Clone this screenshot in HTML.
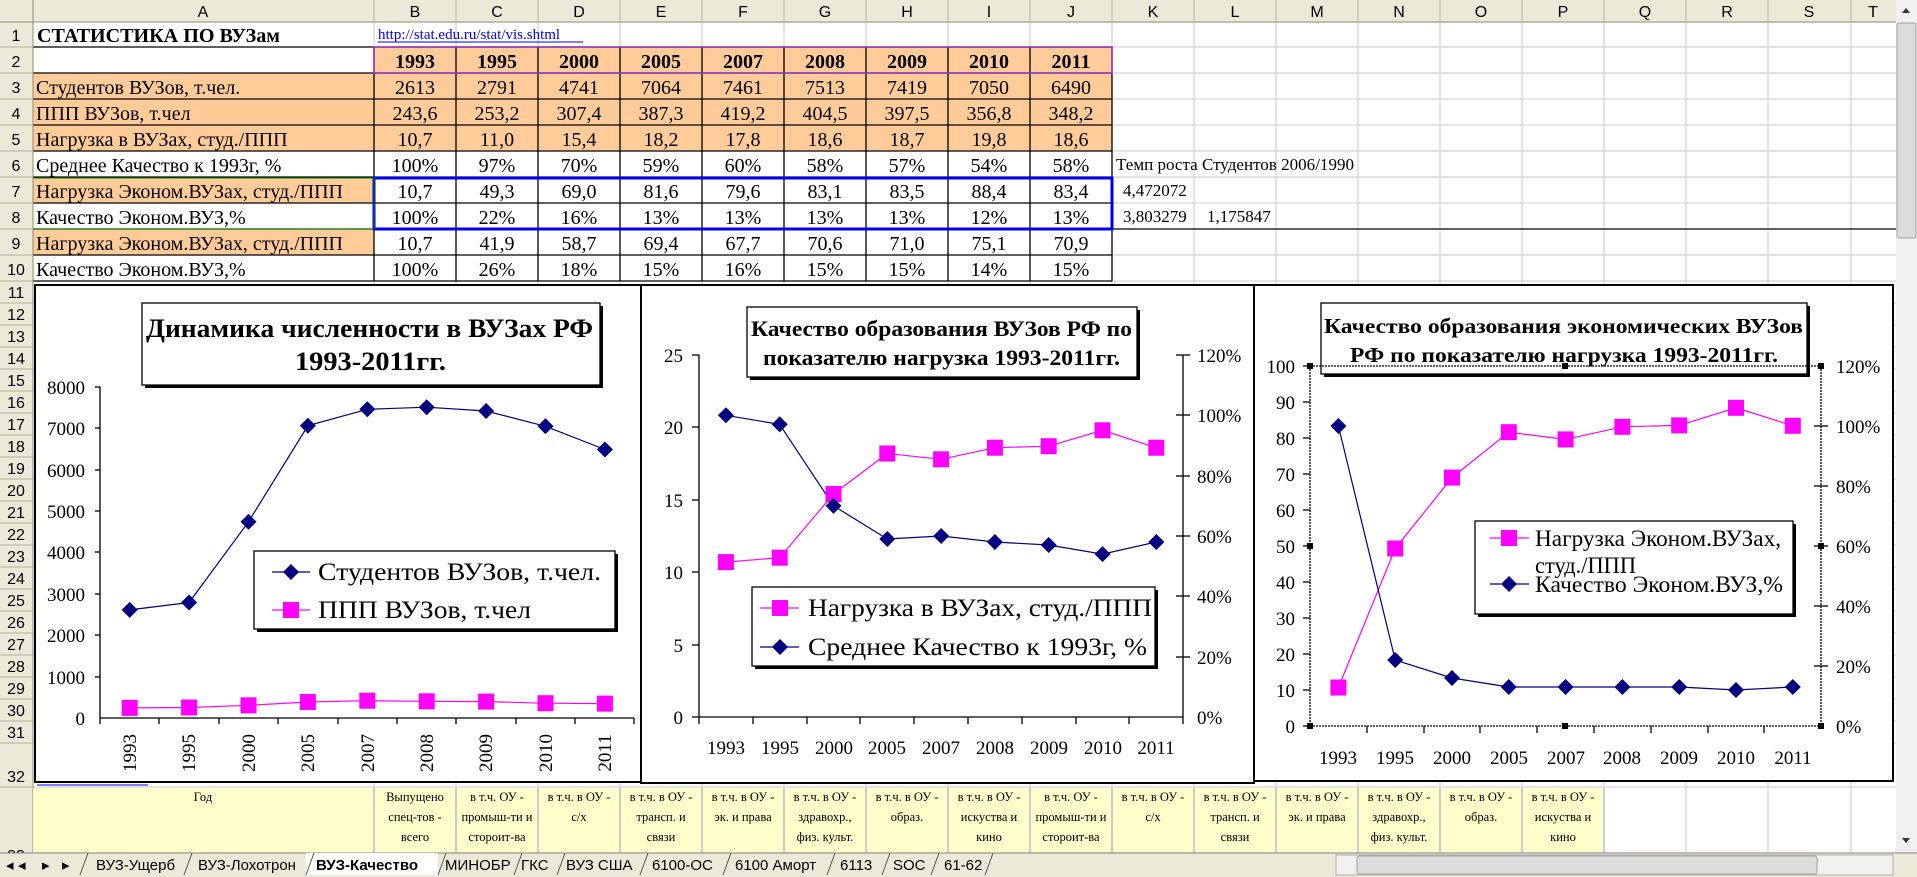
<!DOCTYPE html>
<html><head><meta charset="utf-8"><style>
html,body{margin:0;padding:0;background:#fff;}
svg{display:block;}
text{font-family:"Liberation Serif","DejaVu Serif",serif;}
.s{font-family:"Liberation Sans","DejaVu Sans",sans-serif;}
</style></head><body>
<svg width="1917" height="877" viewBox="0 0 1917 877" xmlns="http://www.w3.org/2000/svg">
<rect width="1917" height="877" fill="#fff"/>
<g fill="#FFCC99">
<rect x="374" y="47" width="738" height="26"/>
<rect x="33" y="73" width="1079" height="78"/>
<rect x="33" y="177" width="341" height="26"/>
<rect x="33" y="229" width="341" height="26"/>
</g>
<g stroke="#C8C8C8" stroke-width="1">
<line x1="456" y1="22" x2="456" y2="853"/><line x1="538" y1="22" x2="538" y2="853"/><line x1="620" y1="22" x2="620" y2="853"/><line x1="702" y1="22" x2="702" y2="853"/><line x1="784" y1="22" x2="784" y2="853"/><line x1="866" y1="22" x2="866" y2="853"/><line x1="948" y1="22" x2="948" y2="853"/><line x1="1030" y1="22" x2="1030" y2="853"/><line x1="1112" y1="22" x2="1112" y2="853"/><line x1="1194" y1="22" x2="1194" y2="853"/><line x1="1276" y1="22" x2="1276" y2="853"/><line x1="1358" y1="22" x2="1358" y2="853"/><line x1="1440" y1="22" x2="1440" y2="853"/><line x1="1522" y1="22" x2="1522" y2="853"/><line x1="1604" y1="22" x2="1604" y2="853"/><line x1="1686" y1="22" x2="1686" y2="853"/><line x1="1768" y1="22" x2="1768" y2="853"/><line x1="1851" y1="22" x2="1851" y2="853"/><line x1="374" y1="22" x2="374" y2="853"/>
<line x1="33" y1="47" x2="1896" y2="47"/><line x1="33" y1="73" x2="1896" y2="73"/><line x1="33" y1="99" x2="1896" y2="99"/><line x1="33" y1="125" x2="1896" y2="125"/><line x1="33" y1="151" x2="1896" y2="151"/><line x1="33" y1="177" x2="1896" y2="177"/><line x1="33" y1="203" x2="1896" y2="203"/><line x1="33" y1="229" x2="1896" y2="229"/><line x1="33" y1="255" x2="1896" y2="255"/><line x1="33" y1="281" x2="1896" y2="281"/>
<line x1="33" y1="303" x2="1896" y2="303"/><line x1="33" y1="325" x2="1896" y2="325"/><line x1="33" y1="347" x2="1896" y2="347"/><line x1="33" y1="369" x2="1896" y2="369"/><line x1="33" y1="391" x2="1896" y2="391"/><line x1="33" y1="413" x2="1896" y2="413"/><line x1="33" y1="435" x2="1896" y2="435"/><line x1="33" y1="457" x2="1896" y2="457"/><line x1="33" y1="479" x2="1896" y2="479"/><line x1="33" y1="501" x2="1896" y2="501"/><line x1="33" y1="523" x2="1896" y2="523"/><line x1="33" y1="545" x2="1896" y2="545"/><line x1="33" y1="567" x2="1896" y2="567"/><line x1="33" y1="589" x2="1896" y2="589"/><line x1="33" y1="611" x2="1896" y2="611"/><line x1="33" y1="633" x2="1896" y2="633"/><line x1="33" y1="655" x2="1896" y2="655"/><line x1="33" y1="677" x2="1896" y2="677"/><line x1="33" y1="699" x2="1896" y2="699"/><line x1="33" y1="721" x2="1896" y2="721"/><line x1="33" y1="743" x2="1896" y2="743"/><line x1="33" y1="787" x2="1896" y2="787"/>
</g>
<g stroke="#000" stroke-width="1.3" fill="none">
<line x1="33" y1="47" x2="1112" y2="47"/><line x1="33" y1="73" x2="1112" y2="73"/><line x1="33" y1="99" x2="1112" y2="99"/><line x1="33" y1="125" x2="1112" y2="125"/><line x1="33" y1="151" x2="1112" y2="151"/><line x1="33" y1="177" x2="1112" y2="177"/><line x1="33" y1="203" x2="1112" y2="203"/><line x1="33" y1="229" x2="1896" y2="229"/><line x1="33" y1="255" x2="1112" y2="255"/><line x1="33" y1="281" x2="1112" y2="281"/>
<line x1="374" y1="47" x2="374" y2="281"/><line x1="456" y1="47" x2="456" y2="281"/><line x1="538" y1="47" x2="538" y2="281"/><line x1="620" y1="47" x2="620" y2="281"/><line x1="702" y1="47" x2="702" y2="281"/><line x1="784" y1="47" x2="784" y2="281"/><line x1="866" y1="47" x2="866" y2="281"/><line x1="948" y1="47" x2="948" y2="281"/><line x1="1030" y1="47" x2="1030" y2="281"/><line x1="1112" y1="47" x2="1112" y2="281"/>
</g>
<rect x="374" y="47" width="738" height="26" fill="none" stroke="#9933CC" stroke-width="1.5"/>
<rect x="374" y="178" width="738" height="51" fill="none" stroke="#0000EE" stroke-width="3"/>
<rect x="33" y="178" width="341" height="51" fill="none" stroke="#008000" stroke-width="1"/>
<rect x="0" y="0" width="1896" height="22" fill="#ECE9D8"/>
<rect x="0" y="0" width="33" height="877" fill="#ECE9D8"/>
<line x1="0" y1="22" x2="1896" y2="22" stroke="#8B8B70"/>
<line x1="33" y1="0" x2="33" y2="853" stroke="#8B8B70"/>
<g stroke="#B5B39A">
<line x1="374" y1="0" x2="374" y2="22"/><line x1="456" y1="0" x2="456" y2="22"/><line x1="538" y1="0" x2="538" y2="22"/><line x1="620" y1="0" x2="620" y2="22"/><line x1="702" y1="0" x2="702" y2="22"/><line x1="784" y1="0" x2="784" y2="22"/><line x1="866" y1="0" x2="866" y2="22"/><line x1="948" y1="0" x2="948" y2="22"/><line x1="1030" y1="0" x2="1030" y2="22"/><line x1="1112" y1="0" x2="1112" y2="22"/><line x1="1194" y1="0" x2="1194" y2="22"/><line x1="1276" y1="0" x2="1276" y2="22"/><line x1="1358" y1="0" x2="1358" y2="22"/><line x1="1440" y1="0" x2="1440" y2="22"/><line x1="1522" y1="0" x2="1522" y2="22"/><line x1="1604" y1="0" x2="1604" y2="22"/><line x1="1686" y1="0" x2="1686" y2="22"/><line x1="1768" y1="0" x2="1768" y2="22"/><line x1="1851" y1="0" x2="1851" y2="22"/>
<line x1="0" y1="47" x2="33" y2="47"/><line x1="0" y1="73" x2="33" y2="73"/><line x1="0" y1="99" x2="33" y2="99"/><line x1="0" y1="125" x2="33" y2="125"/><line x1="0" y1="151" x2="33" y2="151"/><line x1="0" y1="177" x2="33" y2="177"/><line x1="0" y1="203" x2="33" y2="203"/><line x1="0" y1="229" x2="33" y2="229"/><line x1="0" y1="255" x2="33" y2="255"/><line x1="0" y1="281" x2="33" y2="281"/><line x1="0" y1="303" x2="33" y2="303"/><line x1="0" y1="325" x2="33" y2="325"/><line x1="0" y1="347" x2="33" y2="347"/><line x1="0" y1="369" x2="33" y2="369"/><line x1="0" y1="391" x2="33" y2="391"/><line x1="0" y1="413" x2="33" y2="413"/><line x1="0" y1="435" x2="33" y2="435"/><line x1="0" y1="457" x2="33" y2="457"/><line x1="0" y1="479" x2="33" y2="479"/><line x1="0" y1="501" x2="33" y2="501"/><line x1="0" y1="523" x2="33" y2="523"/><line x1="0" y1="545" x2="33" y2="545"/><line x1="0" y1="567" x2="33" y2="567"/><line x1="0" y1="589" x2="33" y2="589"/><line x1="0" y1="611" x2="33" y2="611"/><line x1="0" y1="633" x2="33" y2="633"/><line x1="0" y1="655" x2="33" y2="655"/><line x1="0" y1="677" x2="33" y2="677"/><line x1="0" y1="699" x2="33" y2="699"/><line x1="0" y1="721" x2="33" y2="721"/><line x1="0" y1="743" x2="33" y2="743"/><line x1="0" y1="787" x2="33" y2="787"/>
</g>
<g class="s" font-size="16" text-anchor="middle" fill="#000">
<text class="s" x="203" y="17">A</text><text class="s" x="415" y="17">B</text><text class="s" x="497" y="17">C</text><text class="s" x="579" y="17">D</text><text class="s" x="661" y="17">E</text><text class="s" x="743" y="17">F</text><text class="s" x="825" y="17">G</text><text class="s" x="907" y="17">H</text><text class="s" x="989" y="17">I</text><text class="s" x="1071" y="17">J</text><text class="s" x="1153" y="17">K</text><text class="s" x="1235" y="17">L</text><text class="s" x="1317" y="17">M</text><text class="s" x="1399" y="17">N</text><text class="s" x="1481" y="17">O</text><text class="s" x="1563" y="17">P</text><text class="s" x="1645" y="17">Q</text><text class="s" x="1727" y="17">R</text><text class="s" x="1809" y="17">S</text><text class="s" x="1873" y="17">T</text>
<text class="s" x="16" y="41">1</text><text class="s" x="16" y="67">2</text><text class="s" x="16" y="93">3</text><text class="s" x="16" y="119">4</text><text class="s" x="16" y="145">5</text><text class="s" x="16" y="171">6</text><text class="s" x="16" y="197">7</text><text class="s" x="16" y="223">8</text><text class="s" x="16" y="249">9</text><text class="s" x="16" y="275">10</text>
<text class="s" x="16" y="298">11</text><text class="s" x="16" y="320">12</text><text class="s" x="16" y="342">13</text><text class="s" x="16" y="364">14</text><text class="s" x="16" y="386">15</text><text class="s" x="16" y="408">16</text><text class="s" x="16" y="430">17</text><text class="s" x="16" y="452">18</text><text class="s" x="16" y="474">19</text><text class="s" x="16" y="496">20</text><text class="s" x="16" y="518">21</text><text class="s" x="16" y="540">22</text><text class="s" x="16" y="562">23</text><text class="s" x="16" y="584">24</text><text class="s" x="16" y="606">25</text><text class="s" x="16" y="628">26</text><text class="s" x="16" y="650">27</text><text class="s" x="16" y="672">28</text><text class="s" x="16" y="694">29</text><text class="s" x="16" y="716">30</text><text class="s" x="16" y="738">31</text><text class="s" x="16" y="782">32</text><text class="s" x="16" y="861">33</text>
</g>
<text x="37" y="42" font-size="20" font-weight="bold" textLength="243" lengthAdjust="spacingAndGlyphs">СТАТИСТИКА ПО ВУЗам</text>
<text x="378" y="39" font-size="15" fill="#0000EE">http://stat.edu.ru/stat/vis.shtml</text>
<line x1="378" y1="42" x2="583" y2="42" stroke="#0000EE"/>
<g font-size="20" fill="#000">
<text x="36" y="94">Студентов ВУЗов, т.чел.</text>
<text x="36" y="120">ППП ВУЗов, т.чел</text>
<text x="36" y="146">Нагрузка в ВУЗах, студ./ППП</text>
<text x="36" y="172">Среднее Качество к 1993г, %</text>
<text x="36" y="198">Нагрузка Эконом.ВУЗах, студ./ППП</text>
<text x="36" y="224">Качество Эконом.ВУЗ,%</text>
<text x="36" y="250">Нагрузка Эконом.ВУЗах, студ./ППП</text>
<text x="36" y="276">Качество Эконом.ВУЗ,%</text>
</g>
<g font-size="20" text-anchor="middle" fill="#000">
<g font-weight="bold"><text x="415" y="68">1993</text><text x="497" y="68">1995</text><text x="579" y="68">2000</text><text x="661" y="68">2005</text><text x="743" y="68">2007</text><text x="825" y="68">2008</text><text x="907" y="68">2009</text><text x="989" y="68">2010</text><text x="1071" y="68">2011</text></g>
<text x="415" y="94">2613</text><text x="497" y="94">2791</text><text x="579" y="94">4741</text><text x="661" y="94">7064</text><text x="743" y="94">7461</text><text x="825" y="94">7513</text><text x="907" y="94">7419</text><text x="989" y="94">7050</text><text x="1071" y="94">6490</text>
<text x="415" y="120">243,6</text><text x="497" y="120">253,2</text><text x="579" y="120">307,4</text><text x="661" y="120">387,3</text><text x="743" y="120">419,2</text><text x="825" y="120">404,5</text><text x="907" y="120">397,5</text><text x="989" y="120">356,8</text><text x="1071" y="120">348,2</text>
<text x="415" y="146">10,7</text><text x="497" y="146">11,0</text><text x="579" y="146">15,4</text><text x="661" y="146">18,2</text><text x="743" y="146">17,8</text><text x="825" y="146">18,6</text><text x="907" y="146">18,7</text><text x="989" y="146">19,8</text><text x="1071" y="146">18,6</text>
<text x="415" y="172">100%</text><text x="497" y="172">97%</text><text x="579" y="172">70%</text><text x="661" y="172">59%</text><text x="743" y="172">60%</text><text x="825" y="172">58%</text><text x="907" y="172">57%</text><text x="989" y="172">54%</text><text x="1071" y="172">58%</text>
<text x="415" y="198">10,7</text><text x="497" y="198">49,3</text><text x="579" y="198">69,0</text><text x="661" y="198">81,6</text><text x="743" y="198">79,6</text><text x="825" y="198">83,1</text><text x="907" y="198">83,5</text><text x="989" y="198">88,4</text><text x="1071" y="198">83,4</text>
<text x="415" y="224">100%</text><text x="497" y="224">22%</text><text x="579" y="224">16%</text><text x="661" y="224">13%</text><text x="743" y="224">13%</text><text x="825" y="224">13%</text><text x="907" y="224">13%</text><text x="989" y="224">12%</text><text x="1071" y="224">13%</text>
<text x="415" y="250">10,7</text><text x="497" y="250">41,9</text><text x="579" y="250">58,7</text><text x="661" y="250">69,4</text><text x="743" y="250">67,7</text><text x="825" y="250">70,6</text><text x="907" y="250">71,0</text><text x="989" y="250">75,1</text><text x="1071" y="250">70,9</text>
<text x="415" y="276">100%</text><text x="497" y="276">26%</text><text x="579" y="276">18%</text><text x="661" y="276">15%</text><text x="743" y="276">16%</text><text x="825" y="276">15%</text><text x="907" y="276">15%</text><text x="989" y="276">14%</text><text x="1071" y="276">15%</text>
</g>
<g font-size="17" fill="#000">
<text x="1116" y="170" textLength="238" lengthAdjust="spacingAndGlyphs">Темп роста Студентов 2006/1990</text>
<text x="1123" y="196">4,472072</text>
<text x="1123" y="222">3,803279</text><text x="1207" y="222">1,175847</text>
</g>
<rect x="33" y="788" width="1571" height="65" fill="#FFFFCC"/>
<g stroke="#9999CC"><line x1="374" y1="788" x2="374" y2="853"/><line x1="456" y1="788" x2="456" y2="853"/><line x1="538" y1="788" x2="538" y2="853"/><line x1="620" y1="788" x2="620" y2="853"/><line x1="702" y1="788" x2="702" y2="853"/><line x1="784" y1="788" x2="784" y2="853"/><line x1="866" y1="788" x2="866" y2="853"/><line x1="948" y1="788" x2="948" y2="853"/><line x1="1030" y1="788" x2="1030" y2="853"/><line x1="1112" y1="788" x2="1112" y2="853"/><line x1="1194" y1="788" x2="1194" y2="853"/><line x1="1276" y1="788" x2="1276" y2="853"/><line x1="1358" y1="788" x2="1358" y2="853"/><line x1="1440" y1="788" x2="1440" y2="853"/><line x1="1522" y1="788" x2="1522" y2="853"/><line x1="1604" y1="788" x2="1604" y2="853"/></g>
<g font-size="12.5" text-anchor="middle" fill="#000">
<text x="203" y="801">Год</text>
<text x="415" y="801">Выпущено</text><text x="415" y="821">спец-тов -</text><text x="415" y="841">всего</text>
<text x="497" y="801">в т.ч. ОУ -</text><text x="497" y="821">промыш-ти и</text><text x="497" y="841">сторoит-ва</text>
<text x="579" y="801">в т.ч. в ОУ -</text><text x="579" y="821">с/х</text>
<text x="661" y="801">в т.ч. в ОУ -</text><text x="661" y="821">трансп. и</text><text x="661" y="841">связи</text>
<text x="743" y="801">в т.ч. в ОУ -</text><text x="743" y="821">эк. и права</text>
<text x="825" y="801">в т.ч. в ОУ -</text><text x="825" y="821">здравохр.,</text><text x="825" y="841">физ. культ.</text>
<text x="907" y="801">в т.ч. в ОУ -</text><text x="907" y="821">образ.</text>
<text x="989" y="801">в т.ч. в ОУ -</text><text x="989" y="821">искуства и</text><text x="989" y="841">кино</text>
<text x="1071" y="801">в т.ч. ОУ -</text><text x="1071" y="821">промыш-ти и</text><text x="1071" y="841">сторoит-ва</text>
<text x="1153" y="801">в т.ч. в ОУ -</text><text x="1153" y="821">с/х</text>
<text x="1235" y="801">в т.ч. в ОУ -</text><text x="1235" y="821">трансп. и</text><text x="1235" y="841">связи</text>
<text x="1317" y="801">в т.ч. в ОУ -</text><text x="1317" y="821">эк. и права</text>
<text x="1399" y="801">в т.ч. в ОУ -</text><text x="1399" y="821">здравохр.,</text><text x="1399" y="841">физ. культ.</text>
<text x="1481" y="801">в т.ч. в ОУ -</text><text x="1481" y="821">образ.</text>
<text x="1563" y="801">в т.ч. в ОУ -</text><text x="1563" y="821">искуства и</text><text x="1563" y="841">кино</text>
</g>

<!-- CHART 1 -->
<rect x="35" y="285" width="606" height="497" fill="#fff" stroke="#000" stroke-width="2"/>
<rect x="145" y="306" width="458" height="82" fill="#000"/>
<rect x="142" y="303" width="458" height="82" fill="#fff" stroke="#000" stroke-width="1.3"/>
<g font-size="26" font-weight="bold"><text x="146" y="337" textLength="447" lengthAdjust="spacingAndGlyphs">Динамика численности в ВУЗах РФ</text><text x="295" y="370" textLength="151" lengthAdjust="spacingAndGlyphs">1993-2011гг.</text></g>
<g stroke="#000" stroke-width="1.3">
<line x1="100" y1="387" x2="100" y2="718"/><line x1="100" y1="718" x2="634" y2="718"/>
<line x1="95" y1="387" x2="100" y2="387"/><line x1="95" y1="428" x2="100" y2="428"/><line x1="95" y1="470" x2="100" y2="470"/><line x1="95" y1="511" x2="100" y2="511"/><line x1="95" y1="552" x2="100" y2="552"/><line x1="95" y1="594" x2="100" y2="594"/><line x1="95" y1="635" x2="100" y2="635"/><line x1="95" y1="677" x2="100" y2="677"/>
<line x1="100" y1="718" x2="100" y2="724"/><line x1="159" y1="718" x2="159" y2="724"/><line x1="219" y1="718" x2="219" y2="724"/><line x1="278" y1="718" x2="278" y2="724"/><line x1="338" y1="718" x2="338" y2="724"/><line x1="397" y1="718" x2="397" y2="724"/><line x1="456" y1="718" x2="456" y2="724"/><line x1="516" y1="718" x2="516" y2="724"/><line x1="575" y1="718" x2="575" y2="724"/><line x1="634" y1="718" x2="634" y2="724"/>
</g>
<g font-size="19" text-anchor="end"><text x="85" y="394">8000</text><text x="85" y="435">7000</text><text x="85" y="477">6000</text><text x="85" y="518">5000</text><text x="85" y="559">4000</text><text x="85" y="601">3000</text><text x="85" y="642">2000</text><text x="85" y="684">1000</text><text x="85" y="725">0</text></g>
<g font-size="19" text-anchor="middle">
<text transform="translate(136,753) rotate(-90)">1993</text><text transform="translate(195,753) rotate(-90)">1995</text><text transform="translate(255,753) rotate(-90)">2000</text><text transform="translate(314,753) rotate(-90)">2005</text><text transform="translate(374,753) rotate(-90)">2007</text><text transform="translate(433,753) rotate(-90)">2008</text><text transform="translate(492,753) rotate(-90)">2009</text><text transform="translate(552,753) rotate(-90)">2010</text><text transform="translate(611,753) rotate(-90)">2011</text>
</g>
<polyline fill="none" stroke="#000080" stroke-width="1.2" points="129.7,609.9 189.1,602.5 248.5,521.8 307.9,425.7 367.3,409.3 426.7,407.2 486.1,411 545.5,426.3 604.9,449.5"/>
<polyline fill="none" stroke="#FF00FF" stroke-width="1.2" points="129.7,707.9 189.1,707.5 248.5,705.3 307.9,702 367.3,700.7 426.7,701.3 486.1,701.6 545.5,703.2 604.9,703.6"/>
<g fill="#000080">
<path d="M129.7 601.9l8 8-8 8-8-8z"/><path d="M189.1 594.5l8 8-8 8-8-8z"/><path d="M248.5 513.8l8 8-8 8-8-8z"/><path d="M307.9 417.7l8 8-8 8-8-8z"/><path d="M367.3 401.3l8 8-8 8-8-8z"/><path d="M426.7 399.2l8 8-8 8-8-8z"/><path d="M486.1 403l8 8-8 8-8-8z"/><path d="M545.5 418.3l8 8-8 8-8-8z"/><path d="M604.9 441.5l8 8-8 8-8-8z"/>
</g>
<g fill="#FF00FF">
<rect x="121.7" y="699.9" width="16" height="16"/><rect x="181.1" y="699.5" width="16" height="16"/><rect x="240.5" y="697.3" width="16" height="16"/><rect x="299.9" y="694" width="16" height="16"/><rect x="359.3" y="692.7" width="16" height="16"/><rect x="418.7" y="693.3" width="16" height="16"/><rect x="478.1" y="693.6" width="16" height="16"/><rect x="537.5" y="695.2" width="16" height="16"/><rect x="596.9" y="695.6" width="16" height="16"/>
</g>
<rect x="257" y="554" width="361" height="78" fill="#000"/>
<rect x="254" y="551" width="361" height="78" fill="#fff" stroke="#000" stroke-width="1.3"/>
<line x1="272" y1="572" x2="310" y2="572" stroke="#000080" stroke-width="1.2"/><path d="M291 564l8 8-8 8-8-8z" fill="#000080"/>
<line x1="272" y1="610" x2="310" y2="610" stroke="#FF00FF" stroke-width="1.2"/><rect x="283" y="602" width="16" height="16" fill="#FF00FF"/>
<g font-size="25"><text x="318" y="580" textLength="283" lengthAdjust="spacingAndGlyphs">Студентов ВУЗов, т.чел.</text><text x="318" y="618" textLength="213" lengthAdjust="spacingAndGlyphs">ППП ВУЗов, т.чел</text></g>

<!-- CHART 2 -->
<rect x="641" y="285" width="613" height="498" fill="#fff" stroke="#000" stroke-width="2"/>
<rect x="750" y="310" width="390" height="70" fill="#000"/>
<rect x="747" y="307" width="390" height="70" fill="#fff" stroke="#000" stroke-width="1.3"/>
<g font-size="22" font-weight="bold"><text x="751" y="336" textLength="381" lengthAdjust="spacingAndGlyphs">Качество образования ВУЗов РФ по</text><text x="763" y="365" textLength="357" lengthAdjust="spacingAndGlyphs">показателю нагрузка 1993-2011гг.</text></g>
<g stroke="#000" stroke-width="1.3">
<line x1="699" y1="355" x2="699" y2="717"/><line x1="1183" y1="355" x2="1183" y2="717"/><line x1="699" y1="717" x2="1183" y2="717"/>
<line x1="692" y1="355" x2="699" y2="355"/><line x1="692" y1="427" x2="699" y2="427"/><line x1="692" y1="500" x2="699" y2="500"/><line x1="692" y1="572" x2="699" y2="572"/><line x1="692" y1="645" x2="699" y2="645"/><line x1="692" y1="717" x2="699" y2="717"/>
<line x1="1176" y1="355" x2="1190" y2="355"/><line x1="1176" y1="415" x2="1190" y2="415"/><line x1="1176" y1="476" x2="1190" y2="476"/><line x1="1176" y1="536" x2="1190" y2="536"/><line x1="1176" y1="596" x2="1190" y2="596"/><line x1="1176" y1="657" x2="1190" y2="657"/>
<line x1="699" y1="717" x2="699" y2="724"/><line x1="753" y1="717" x2="753" y2="724"/><line x1="807" y1="717" x2="807" y2="724"/><line x1="860" y1="717" x2="860" y2="724"/><line x1="914" y1="717" x2="914" y2="724"/><line x1="968" y1="717" x2="968" y2="724"/><line x1="1022" y1="717" x2="1022" y2="724"/><line x1="1076" y1="717" x2="1076" y2="724"/><line x1="1129" y1="717" x2="1129" y2="724"/><line x1="1183" y1="717" x2="1183" y2="724"/>
</g>
<g font-size="19" text-anchor="end"><text x="683" y="362">25</text><text x="683" y="434">20</text><text x="683" y="507">15</text><text x="683" y="579">10</text><text x="683" y="652">5</text><text x="683" y="724">0</text></g>
<g font-size="19"><text x="1197" y="362">120%</text><text x="1197" y="422">100%</text><text x="1197" y="483">80%</text><text x="1197" y="543">60%</text><text x="1197" y="603">40%</text><text x="1197" y="664">20%</text><text x="1197" y="724">0%</text></g>
<g font-size="19" text-anchor="middle"><text x="726" y="754">1993</text><text x="780" y="754">1995</text><text x="834" y="754">2000</text><text x="887" y="754">2005</text><text x="941" y="754">2007</text><text x="995" y="754">2008</text><text x="1049" y="754">2009</text><text x="1103" y="754">2010</text><text x="1156" y="754">2011</text></g>
<polyline fill="none" stroke="#FF00FF" stroke-width="1.2" points="725.9,562.1 779.7,557.7 833.5,494 887.3,453.5 941.1,459.3 994.9,447.7 1048.7,446.2 1102.5,430.3 1156.3,447.7"/>
<polyline fill="none" stroke="#000080" stroke-width="1.2" points="725.9,415.3 779.7,424.4 833.5,505.8 887.3,539 941.1,536 994.9,542 1048.7,545 1102.5,554.1 1156.3,542"/>
<g fill="#FF00FF"><rect x="717.9" y="554.1" width="16" height="16"/><rect x="771.7" y="549.7" width="16" height="16"/><rect x="825.5" y="486" width="16" height="16"/><rect x="879.3" y="445.5" width="16" height="16"/><rect x="933.1" y="451.3" width="16" height="16"/><rect x="986.9" y="439.7" width="16" height="16"/><rect x="1040.7" y="438.2" width="16" height="16"/><rect x="1094.5" y="422.3" width="16" height="16"/><rect x="1148.3" y="439.7" width="16" height="16"/></g>
<g fill="#000080"><path d="M725.9 407.3l8 8-8 8-8-8z"/><path d="M779.7 416.4l8 8-8 8-8-8z"/><path d="M833.5 497.8l8 8-8 8-8-8z"/><path d="M887.3 531l8 8-8 8-8-8z"/><path d="M941.1 528l8 8-8 8-8-8z"/><path d="M994.9 534l8 8-8 8-8-8z"/><path d="M1048.7 537l8 8-8 8-8-8z"/><path d="M1102.5 546.1l8 8-8 8-8-8z"/><path d="M1156.3 534l8 8-8 8-8-8z"/></g>
<rect x="755" y="590" width="403" height="79" fill="#000"/>
<rect x="752" y="587" width="403" height="79" fill="#fff" stroke="#000" stroke-width="1.3"/>
<line x1="760" y1="608" x2="799" y2="608" stroke="#FF00FF" stroke-width="1.2"/><rect x="772" y="600" width="16" height="16" fill="#FF00FF"/>
<line x1="760" y1="647" x2="799" y2="647" stroke="#000080" stroke-width="1.2"/><path d="M780 639l8 8-8 8-8-8z" fill="#000080"/>
<g font-size="25"><text x="808" y="616" textLength="344" lengthAdjust="spacingAndGlyphs">Нагрузка в ВУЗах, студ./ППП</text><text x="808" y="655" textLength="339" lengthAdjust="spacingAndGlyphs">Среднее Качество к 1993г, %</text></g>

<!-- CHART 3 -->
<rect x="1254" y="285" width="639" height="496" fill="#fff" stroke="#000" stroke-width="2"/>
<rect x="1324" y="306" width="486" height="71" fill="#000"/>
<rect x="1321" y="303" width="486" height="71" fill="#fff" stroke="#000" stroke-width="1.3"/>
<g font-size="21" font-weight="bold"><text x="1324" y="333" textLength="479" lengthAdjust="spacingAndGlyphs">Качество образования экономических ВУЗов</text><text x="1350" y="362" textLength="428" lengthAdjust="spacingAndGlyphs">РФ по показателю нагрузка 1993-2011гг.</text></g>
<g stroke="#000" stroke-width="1.3">
<line x1="1310" y1="366" x2="1310" y2="726" stroke-dasharray="2,1"/><line x1="1821" y1="366" x2="1821" y2="726" stroke-dasharray="2,1"/><line x1="1310" y1="726" x2="1821" y2="726" stroke-dasharray="2,1"/><line x1="1310" y1="366" x2="1821" y2="366" stroke-dasharray="2,1"/>
<line x1="1303" y1="366" x2="1310" y2="366"/><line x1="1303" y1="402" x2="1310" y2="402"/><line x1="1303" y1="438" x2="1310" y2="438"/><line x1="1303" y1="474" x2="1310" y2="474"/><line x1="1303" y1="510" x2="1310" y2="510"/><line x1="1303" y1="546" x2="1310" y2="546"/><line x1="1303" y1="582" x2="1310" y2="582"/><line x1="1303" y1="618" x2="1310" y2="618"/><line x1="1303" y1="654" x2="1310" y2="654"/><line x1="1303" y1="690" x2="1310" y2="690"/><line x1="1303" y1="726" x2="1310" y2="726"/>
<line x1="1814" y1="426" x2="1828" y2="426"/><line x1="1814" y1="486" x2="1828" y2="486"/><line x1="1814" y1="546" x2="1828" y2="546"/><line x1="1814" y1="606" x2="1828" y2="606"/><line x1="1814" y1="666" x2="1828" y2="666"/>
<line x1="1367" y1="726" x2="1367" y2="733"/><line x1="1424" y1="726" x2="1424" y2="733"/><line x1="1480" y1="726" x2="1480" y2="733"/><line x1="1537" y1="726" x2="1537" y2="733"/><line x1="1594" y1="726" x2="1594" y2="733"/><line x1="1651" y1="726" x2="1651" y2="733"/><line x1="1708" y1="726" x2="1708" y2="733"/><line x1="1764" y1="726" x2="1764" y2="733"/>
</g>
<g fill="#000"><rect x="1307" y="363" width="6" height="6"/><rect x="1307" y="543" width="6" height="6"/><rect x="1307" y="723" width="6" height="6"/><rect x="1562" y="363" width="6" height="6"/><rect x="1562" y="723" width="6" height="6"/><rect x="1818" y="363" width="6" height="6"/><rect x="1818" y="543" width="6" height="6"/><rect x="1818" y="723" width="6" height="6"/></g>
<g font-size="19" text-anchor="end"><text x="1295" y="373">100</text><text x="1295" y="409">90</text><text x="1295" y="445">80</text><text x="1295" y="481">70</text><text x="1295" y="517">60</text><text x="1295" y="553">50</text><text x="1295" y="589">40</text><text x="1295" y="625">30</text><text x="1295" y="661">20</text><text x="1295" y="697">10</text><text x="1295" y="733">0</text></g>
<g font-size="19"><text x="1836" y="373">120%</text><text x="1836" y="433">100%</text><text x="1836" y="493">80%</text><text x="1836" y="553">60%</text><text x="1836" y="613">40%</text><text x="1836" y="673">20%</text><text x="1836" y="733">0%</text></g>
<g font-size="19" text-anchor="middle"><text x="1338" y="764">1993</text><text x="1395" y="764">1995</text><text x="1452" y="764">2000</text><text x="1509" y="764">2005</text><text x="1566" y="764">2007</text><text x="1622" y="764">2008</text><text x="1679" y="764">2009</text><text x="1736" y="764">2010</text><text x="1793" y="764">2011</text></g>
<polyline fill="none" stroke="#FF00FF" stroke-width="1.2" points="1338.4,687.5 1395.2,548.5 1452,477.6 1508.8,432.2 1565.6,439.4 1622.4,426.8 1679.2,425.4 1736,407.8 1792.8,425.8"/>
<polyline fill="none" stroke="#000080" stroke-width="1.2" points="1338.4,426 1395.2,660 1452,678 1508.8,687 1565.6,687 1622.4,687 1679.2,687 1736,690 1792.8,687"/>
<g fill="#FF00FF"><rect x="1330.4" y="679.5" width="16" height="16"/><rect x="1387.2" y="540.5" width="16" height="16"/><rect x="1444" y="469.6" width="16" height="16"/><rect x="1500.8" y="424.2" width="16" height="16"/><rect x="1557.6" y="431.4" width="16" height="16"/><rect x="1614.4" y="418.8" width="16" height="16"/><rect x="1671.2" y="417.4" width="16" height="16"/><rect x="1728" y="399.8" width="16" height="16"/><rect x="1784.8" y="417.8" width="16" height="16"/></g>
<g fill="#000080"><path d="M1338.4 418l8 8-8 8-8-8z"/><path d="M1395.2 652l8 8-8 8-8-8z"/><path d="M1452 670l8 8-8 8-8-8z"/><path d="M1508.8 679l8 8-8 8-8-8z"/><path d="M1565.6 679l8 8-8 8-8-8z"/><path d="M1622.4 679l8 8-8 8-8-8z"/><path d="M1679.2 679l8 8-8 8-8-8z"/><path d="M1736 682l8 8-8 8-8-8z"/><path d="M1792.8 679l8 8-8 8-8-8z"/></g>
<rect x="1478" y="524" width="318" height="93" fill="#000"/>
<rect x="1475" y="521" width="318" height="93" fill="#fff" stroke="#000" stroke-width="1.3"/>
<line x1="1490" y1="538" x2="1529" y2="538" stroke="#FF00FF" stroke-width="1.2"/><rect x="1501" y="530" width="16" height="16" fill="#FF00FF"/>
<line x1="1490" y1="584" x2="1529" y2="584" stroke="#000080" stroke-width="1.2"/><path d="M1509 576l8 8-8 8-8-8z" fill="#000080"/>
<g font-size="23"><text x="1535" y="546" textLength="246" lengthAdjust="spacingAndGlyphs">Нагрузка Эконом.ВУЗах,</text><text x="1535" y="573" textLength="101" lengthAdjust="spacingAndGlyphs">студ./ППП</text><text x="1535" y="592" textLength="248" lengthAdjust="spacingAndGlyphs">Качество Эконом.ВУЗ,%</text></g>

<line x1="37" y1="785" x2="148" y2="785" stroke="#0000EE" stroke-width="1"/>

<rect x="1896" y="0" width="21" height="853" fill="#F0F0F0"/>
<rect x="1897" y="23" width="19" height="215" rx="2" fill="#DCDCDC" stroke="#A0A0A0"/>
<path d="M1902 13l4-5 4 5z" fill="#333"/>
<path d="M1902 838l4 5 4-5z" fill="#333"/>
<rect x="0" y="853" width="1917" height="24" fill="#ECE9D8"/>
<line x1="0" y1="853" x2="1917" y2="853" stroke="#808080"/>
<rect x="306" y="853" width="132" height="22" fill="#fff"/>
<g font-size="15" fill="#000">
<text class="s" x="6" y="870">◂</text><text class="s" x="18" y="870">◂</text><text class="s" x="42" y="870">▸</text><text class="s" x="62" y="870">▸</text>
<text class="s" x="96" y="870">ВУЗ-Ущерб</text>
<text class="s" x="198" y="870">ВУЗ-Лохотрон</text>
<text class="s" x="316" y="870" font-weight="bold">ВУЗ-Качество</text>
<text class="s" x="445" y="870">МИНОБР</text>
<text class="s" x="521" y="870">ГКС</text>
<text class="s" x="566" y="870">ВУЗ США</text>
<text class="s" x="652" y="870">6100-ОС</text>
<text class="s" x="735" y="870">6100 Аморт</text>
<text class="s" x="840" y="870">6113</text>
<text class="s" x="893" y="870">SOC</text>
<text class="s" x="944" y="870">61-62</text>
</g>
<g stroke="#555" fill="none"><path d="M80 875l8-22M184 875l8-22M306 875l8-22M438 875l8-22M514 875l8-22M557 875l8-22M640 875l8-22M723 875l8-22M827 875l8-22M882 875l8-22M931 875l8-22M985 875l8-22"/></g>
<rect x="1336" y="855" width="557" height="20" fill="#F0F0F0" stroke="#B0B0B0"/>
<rect x="1357" y="856" width="460" height="18" rx="2" fill="#DCDCDC" stroke="#A0A0A0"/>
</svg>
</body></html>
